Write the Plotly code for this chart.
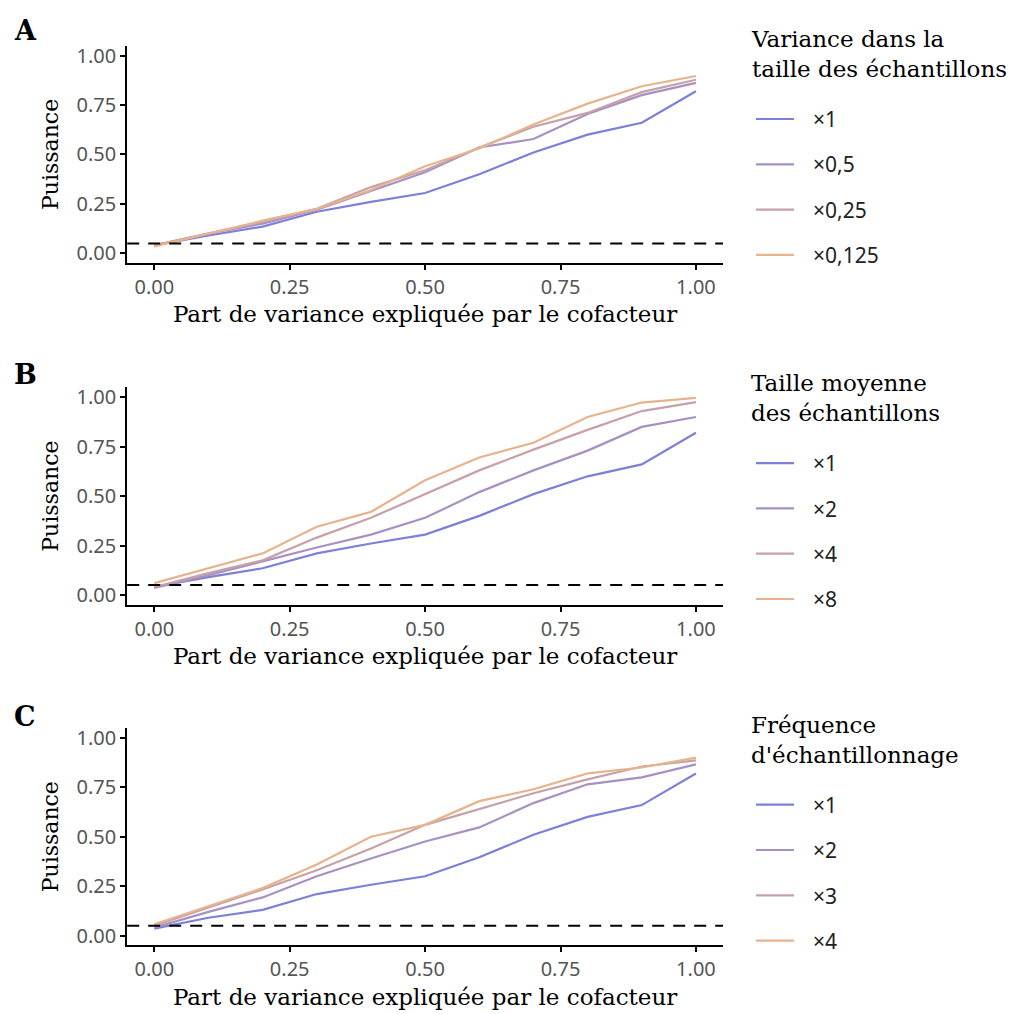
import plotly.graph_objects as go

# ---------------- data ----------------
x_vals = [0.0, 0.1, 0.2, 0.3, 0.4, 0.5, 0.6, 0.7, 0.8, 0.9, 1.0]

# Panel A : variance in sample size
a_labels = ["×1", "×0,5", "×0,25", "×0,125"]
a_x1 = [0.04, 0.09, 0.135, 0.21, 0.26, 0.305, 0.40, 0.51, 0.60, 0.66, 0.82]
a_x05 = [0.04, 0.10, 0.15, 0.22, 0.315, 0.41, 0.535, 0.578, 0.705, 0.80, 0.862]
a_x025 = [0.04, 0.10, 0.16, 0.225, 0.335, 0.42, 0.535, 0.64, 0.71, 0.815, 0.878]
a_x0125 = [0.035, 0.10, 0.165, 0.225, 0.32, 0.44, 0.53, 0.652, 0.757, 0.845, 0.897]

# Panel B : mean sample size
b_labels = ["×1", "×2", "×4", "×8"]
b_x1 = [0.04, 0.09, 0.135, 0.21, 0.26, 0.305, 0.40, 0.51, 0.60, 0.66, 0.82]
b_x2 = [0.035, 0.10, 0.17, 0.24, 0.305, 0.39, 0.52, 0.63, 0.73, 0.85, 0.90]
b_x4 = [0.04, 0.11, 0.175, 0.29, 0.39, 0.51, 0.63, 0.735, 0.835, 0.93, 0.975]
b_x8 = [0.06, 0.135, 0.21, 0.345, 0.42, 0.58, 0.695, 0.77, 0.90, 0.973, 0.997]

# Panel C : sampling frequency
c_labels = ["×1", "×2", "×3", "×4"]
c_x1 = [0.035, 0.09, 0.13, 0.21, 0.257, 0.30, 0.396, 0.51, 0.60, 0.66, 0.82]
c_x2 = [0.04, 0.12, 0.193, 0.30, 0.39, 0.476, 0.547, 0.67, 0.765, 0.80, 0.866]
c_x3 = [0.05, 0.14, 0.233, 0.33, 0.44, 0.56, 0.64, 0.72, 0.79, 0.855, 0.886]
c_x4 = [0.057, 0.15, 0.24, 0.36, 0.50, 0.56, 0.68, 0.74, 0.82, 0.85, 0.90]

threshold = 0.05
x_ticks = [0.0, 0.25, 0.5, 0.75, 1.0]
x_tick_text = ["0.00", "0.25", "0.50", "0.75", "1.00"]
y_ticks = [0.0, 0.25, 0.5, 0.75, 1.0]
y_tick_text = ["0.00", "0.25", "0.50", "0.75", "1.00"]

panel_letters = ["A", "B", "C"]
legend_titles = [
    "Variance dans la<br>taille des échantillons",
    "Taille moyenne<br>des échantillons",
    "Fréquence<br>d'échantillonnage",
]
x_title = "Part de variance expliquée par le cofacteur"
y_title = "Puissance"

colors = ["#7D80D9", "#A791C3", "#C7A1A8", "#E6B38D"]

panels = [
    (a_labels, [a_x1, a_x05, a_x025, a_x0125]),
    (b_labels, [b_x1, b_x2, b_x4, b_x8]),
    (c_labels, [c_x1, c_x2, c_x3, c_x4]),
]

# ---------------- layout geometry (pixels) ----------------
W, H = 1016, 1014
x_left, x_right = 127.2, 723.0
panel_px = [(42.0, 261.0), (386.0, 605.0), (729.0, 948.0)]
side_shift = [-3.5, -1.0, 0.0]   # fine vertical nudges for letters / legends

SERIF = "DejaVu Serif"
SANS = "Noto Sans"
KEY_PAD = "\u2002\u2009"

fig = go.Figure()
layout = dict(
    width=W, height=H,
    margin=dict(l=0, r=0, t=0, b=0),
    paper_bgcolor="white", plot_bgcolor="white",
    showlegend=True,
    font=dict(family=SANS, color="black"),
)
annotations = []
shapes = []

for i, (labels, series) in enumerate(panels):
    n = "" if i == 0 else str(i + 1)
    xa, ya = "x" + n, "y" + n
    leg = "legend" + n
    top, bot = panel_px[i]
    ds = side_shift[i]
    for j, (lab, ys) in enumerate(zip(labels, series)):
        fig.add_trace(go.Scatter(
            x=x_vals, y=ys, mode="lines", name=KEY_PAD + lab,
            line=dict(color=colors[j], width=2.2),
            xaxis=xa, yaxis=ya, legend=leg,
            legendgroup=f"p{i}g{j}",
        ))
    layout["xaxis" + n] = dict(
        domain=[x_left / W, x_right / W], anchor=ya,
        range=[-0.05, 1.05], tickvals=x_ticks, ticktext=x_tick_text,
        showline=True, linecolor="black", linewidth=2,
        ticks="outside", ticklen=5, tickwidth=2, tickcolor="black",
        showgrid=False, zeroline=False,
        tickfont=dict(family=SANS, size=20, color="#555555"),
        title=dict(text=x_title, font=dict(family=SERIF, size=23, color="black"), standoff=7),
    )
    layout["yaxis" + n] = dict(
        domain=[1 - bot / H, 1 - top / H], anchor=xa,
        range=[-0.05, 1.05], tickvals=y_ticks, ticktext=y_tick_text,
        showline=True, linecolor="black", linewidth=2,
        ticks="outside", ticklen=5, tickwidth=2, tickcolor="black",
        showgrid=False, zeroline=False,
        tickfont=dict(family=SANS, size=20, color="#555555"),
        title=dict(text=y_title, font=dict(family=SERIF, size=22, color="black"), standoff=12),
    )
    shapes.append(dict(
        type="line", xref=xa + " domain", yref=ya, x0=0, x1=1,
        y0=threshold, y1=threshold,
        line=dict(color="black", width=2, dash="12px,9px"),
    ))
    annotations.append(dict(
        text="<b>" + panel_letters[i] + "</b>", xref="paper", yref="paper",
        x=12 / W, y=1 - (top - 12 + ds) / H, xanchor="left", yanchor="middle",
        showarrow=False, font=dict(family=SERIF, size=27, color="black"),
    ))
    annotations.append(dict(
        text=legend_titles[i], xref="paper", yref="paper",
        x=749 / W, y=1 - (top + 12 + ds) / H, xanchor="left", yanchor="middle",
        align="left", showarrow=False,
        font=dict(family=SERIF, size=23, color="black"),
    ))
    layout[leg] = dict(
        x=751 / W, y=1 - (top + 57 + ds) / H, xanchor="left", yanchor="top",
        bgcolor="rgba(0,0,0,0)", borderwidth=0,
        font=dict(family=SANS, size=21, color="#222222"),
        tracegroupgap=15, traceorder="grouped",
        itemwidth=38,
    )

layout["annotations"] = annotations
layout["shapes"] = shapes
fig.update_layout(**layout)
fig.write_html("out.html", config={"displayModeBar": False},
               post_script="document.body.style.margin='0';")
